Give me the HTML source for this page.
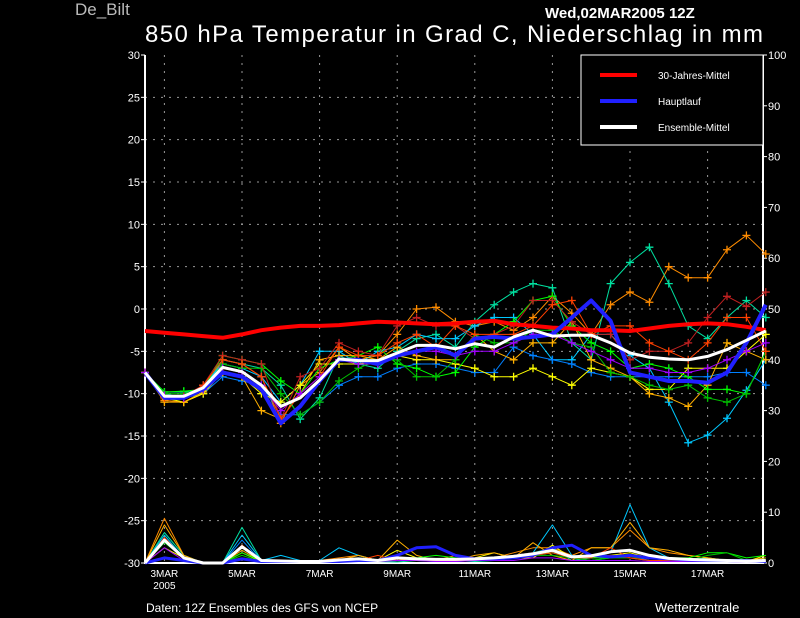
<!DOCTYPE html>
<html><head><meta charset="utf-8"><style>
html,body{margin:0;padding:0;background:#000;width:800px;height:618px;overflow:hidden}
svg{display:block;font-family:"Liberation Sans",sans-serif}
</style></head><body>
<svg id="c" width="800" height="618" xmlns="http://www.w3.org/2000/svg">
<rect x="0" y="0" width="800" height="618" fill="#000"/>
<text x="75" y="15" fill="#bbb" font-size="17">De_Bilt</text>
<text x="545" y="18" fill="#fff" font-size="15" font-weight="bold">Wed,02MAR2005 12Z</text>
<text x="145" y="42" fill="#fff" font-size="24" textLength="618">850 hPa Temperatur in Grad C, Niederschlag in mm</text>
<text x="146" y="612" fill="#fff" font-size="12">Daten: 12Z Ensembles des GFS von NCEP</text>
<text x="655" y="612" fill="#fff" font-size="13">Wetterzentrale</text>
<g id="grid"></g><g id="axes"></g><g id="series"></g><g id="legend"></g>
</svg>
<script>
const dateLabels = ["3MAR","5MAR","7MAR","9MAR","11MAR","13MAR","15MAR","17MAR"];
const dateIdx = [1,5,9,13,17,21,25,29];
const tempTicks = [30,25,20,15,10,5,0,-5,-10,-15,-20,-25,-30];
const precTicks = [0,10,20,30,40,50,60,70,80,90,100];
const climate = [-2.6,-2.8,-3.0,-3.2,-3.4,-3.0,-2.5,-2.2,-2.0,-2.0,-1.9,-1.7,-1.5,-1.6,-1.7,-1.8,-1.7,-1.5,-1.4,-1.8,-2.0,-2.2,-2.3,-2.5,-2.5,-2.6,-2.3,-2.0,-1.8,-1.7,-1.8,-2.1,-2.5];
const mainRun = [-7.5,-10.5,-10.5,-9.5,-7.5,-8,-9.5,-13.5,-11.5,-8.5,-6,-6,-6.5,-5.5,-5,-4.5,-5.5,-3.5,-3.3,-3.5,-3.3,-3,-1,1,-1.4,-7.5,-8,-8.5,-8.5,-8.7,-7.5,-4,0.5];
const ensMean = [-7.5,-10.3,-10.3,-9.3,-6.9,-7.4,-9,-11.5,-10.5,-8.4,-5.9,-6.1,-6.1,-5.2,-4.3,-4.3,-4.7,-4.1,-4.5,-3.3,-2.5,-3.2,-3.1,-3.1,-4,-5.2,-5.7,-5.9,-6,-5.6,-4.8,-3.7,-2.6];
const memberColors = ["#ff8c00","#00e0a0","#00c8ff","#0080ff","#ffff00","#ffb000","#00ff00","#00c000","#c02020","#ff4000","#a000ff"];
const m1 = [-7.5,-10.8,-11,-10,-6,-6.5,-8,-13.5,-9,-7.5,-4.5,-6,-5.5,-3,0,0.2,-1.5,-2,-1.5,-2.5,-1,1.5,-0.5,-3,0.5,2,0.8,5,3.7,3.7,7,8.7,6.5];
const m2 = [-7.5,-9.8,-9.8,-9.5,-6,-6.5,-7,-9,-13,-10.5,-5.5,-6.5,-7,-5,-3.5,-3,-4.5,-1.5,0.5,2,3,2.5,-4,-6,3,5.5,7.3,3,-2,-3.5,-1,1,-1];
const m3 = [-7.5,-10,-10.5,-9,-6.5,-7,-8,-11,-9,-5,-5,-6.5,-5,-4.5,-3,-3.5,-3.5,-2,-1,-1,-3,-6,-6,-3,-3,-5.5,-7,-11,-15.8,-14.9,-12.9,-9.6,-6];
const m4 = [-7.5,-10.5,-10.5,-10,-8,-8.5,-9,-12.5,-12.5,-11,-9,-8,-8,-7,-6.5,-6.5,-7,-7.5,-7.5,-4.5,-5.5,-6,-6.5,-7.5,-8,-8,-8,-8,-8,-8,-7.5,-7.5,-9];
const m5 = [-7.5,-10.5,-11,-10,-7.5,-8,-10,-11,-9,-6.5,-6.5,-6.5,-6,-5.5,-6,-6,-6.5,-7,-8,-8,-7,-8,-9,-7,-7.5,-8,-9.5,-9.5,-7,-7,-7,-5,-3];
const m6 = [-7.5,-11,-11,-9.8,-7.5,-8,-12,-13,-10,-6,-5.5,-5.5,-6,-4.5,-5.5,-6,-6,-3,-5,-6,-4,-4,-1.5,-6,-7,-8,-10,-10.5,-11.5,-9,-4,-5,-6];
const m7 = [-7.5,-9.8,-9.7,-9.5,-5.5,-6,-6.5,-8.5,-10,-7,-6,-5.5,-4.5,-6.5,-7,-8,-7.5,-4.5,-3,-1.5,1,1.5,-2,-4,-5,-7,-6.5,-7,-8,-9.5,-9.5,-10,-5];
const m8 = [-7.5,-10,-10,-9.5,-6.5,-7,-7,-10,-12.5,-11,-8.5,-7,-6,-6,-8,-8,-6,-3,-4,-4,-2.5,-2.5,-4,-4.5,-7.5,-8,-9,-9.5,-9,-10.5,-11,-10,-5];
const m9 = [-7.5,-10.2,-10.3,-9,-5.5,-6,-6.5,-13,-8,-7,-4,-5,-5.5,-2,-1,-2,-2,-3.5,-3,-2,1,1,-1.5,-3,-3,-6,-5,-5,-4,-1,1.5,0.3,2];
const m10 = [-7.5,-10.5,-10.5,-9,-6,-6.5,-8,-13,-10,-8,-4.5,-5.5,-5.5,-4,-3,-4.5,-2,-3,-3,-3,-2,0.5,1,-3,-2,-2,-4,-5,-6,-4,-1,-1,-5];
const m11 = [-7.5,-10.2,-10.5,-9.5,-7,-7.5,-9,-12,-10,-8,-6,-6.5,-6.5,-5.5,-5,-5,-5.5,-5,-5,-4,-3,-3,-4,-5,-6,-7,-7,-7.5,-7.5,-7,-6,-5,-4];
const members = [m1,m2,m3,m4,m5,m6,m7,m8,m9,m10,m11];
const p1 = [0,8.8,1.5,0,0,3,0.5,0.5,0.3,0.5,1,1.5,0.5,0.5,1,0.5,1.5,0.5,1,2,3,3,1.5,3,3,6.5,3,2,1.5,1,0.5,0.3,0.5];
const p2 = [0,6,1.5,0,0,7,0.5,0.5,0.3,0.2,0.3,0.5,0.3,0.2,0.5,0.5,0.5,0.3,0.5,1,2,3,0.5,1,1.5,1,0.5,0.5,0.5,1,0.5,0.3,1];
const p3 = [0,5.5,1,0,0,5.5,0.5,1.5,0.5,0.5,3,1.5,0.5,1,0.5,0.5,0.5,0.5,1,1.5,2,7.5,1.5,1,2,11.5,3,1,0.5,0.5,0.3,0.3,0.5];
const p4 = [0,5,1,0,0,4.5,0.3,0.3,0.3,0.3,0.5,0.5,0.3,0.5,0.5,0.3,0.3,0.5,0.5,1,1.5,2,1,0.5,1,1.5,0.5,0.3,0.3,0.3,0.3,0.2,0.3];
const p5 = [0,3,1,0,0,2,0.3,0.3,0.3,0.3,0.5,0.5,0.5,2.5,1,0.5,0.5,1,2,1,1,3.5,1,1,1.5,2,1,0.5,0.5,0.3,0.3,0.3,1.5];
const p6 = [0,7.5,1.5,0,0,2.5,0.3,0.3,0.3,0.3,0.5,1.5,0.5,4.5,1.5,0.5,0.5,1.5,2,1,4,1.5,0.5,3,3,8,3,2.5,1.5,1,0.5,0.5,1];
const p7 = [0,4.5,1,0,0,2,0.5,0.5,0.3,0.3,0.5,1,0.5,1,1,1.5,1,0.5,1,1,1.5,2,1,1,1,1.5,1,1,1,2,2,1,1.5];
const p8 = [0,4,1,0,0,1.5,0.3,0.3,0.3,0.3,0.5,0.5,0.3,0.5,0.5,0.5,0.5,0.5,0.5,1,1.5,1.5,1,0.5,1,1,1,1,0.5,1.5,2,0.5,0.5];
const p9 = [0,5,1,0,0,3.5,0.5,0.3,0.3,0.3,0.3,0.5,0.3,1,1,0.5,0.5,1,1,1.5,2,2.5,1,1.5,1.5,1,0.5,0.5,0.3,0.3,0.3,0.3,0.5];
const p10 = [0,5,1,0,0,3.5,0.3,0.3,0.3,0.3,0.5,0.5,1.5,0.5,0.5,0.5,0.5,0.5,1,1,1.5,2,1,1,3,1,0.5,0.5,0.3,0.3,0.3,0.3,0.5];
const p11 = [0,3,0.5,0,0,1,0.3,0.3,0.3,0.3,0.3,0.5,0.3,0.5,0.5,0.3,0.3,0.5,0.5,0.5,1,1,0.5,0.5,0.5,0.5,0.3,0.3,0.3,0.3,0.3,0.2,0.3];
const precMembers = [p1,p2,p3,p4,p5,p6,p7,p8,p9,p10,p11];
const precMain = [0,1,0.5,0,0,0.8,0.3,0.3,0.3,0.3,0.3,0.5,0.5,1.5,3,3.2,1.5,0.8,0.8,1,1.5,3,3.5,1.5,1.2,1.5,1,0.8,0.6,0.5,0.5,0.5,0.3];
const precMean = [0,4.5,1,0,0,3.2,0.5,0.4,0.3,0.3,0.6,0.8,0.5,1,0.8,0.7,0.7,0.8,1,1.3,1.8,2.5,1.2,1.4,2.2,2.5,1.5,0.9,0.7,0.6,0.5,0.4,0.5];

const NS="http://www.w3.org/2000/svg";
const X0=145,X1=763,Y0=55,Y1=563,DX=19.4;
const xs=i=>X0+DX*i;
const yT=t=>309-(t)*508/60;
const yP=p=>Y1-p*508/100;
function mk(tag,attrs,parent){const e=document.createElementNS(NS,tag);for(const k in attrs)e.setAttribute(k,attrs[k]);parent.appendChild(e);return e;}
const grid=document.getElementById('grid'),axes=document.getElementById('axes'),ser=document.getElementById('series'),leg=document.getElementById('legend');
tempTicks.forEach(t=>{
  if(t>-30&&t<30){const g=mk('line',{x1:X0,x2:X1,y1:yT(t),y2:yT(t),stroke:'#999','stroke-dasharray':'2,6','stroke-width':1},grid);
  
  }
  const tk=mk('line',{x1:X0-4,x2:X0,y1:yT(t),y2:yT(t),stroke:'#fff'},axes);
  
  
  const l=mk('text',{x:X0-5,y:yT(t)+4,fill:'#fff','font-size':11,'text-anchor':'end'},axes);l.textContent=t;
  
  
});
precTicks.forEach(p=>{
  const tk=mk('line',{x1:X1,x2:X1+4,y1:yP(p),y2:yP(p),stroke:'#fff'},axes);
  
  
  const l=mk('text',{x:X1+5,y:yP(p)+4,fill:'#fff','font-size':11},axes);l.textContent=p;
  
  
});
dateLabels.forEach((d,k)=>{
  const x=xs(dateIdx[k]);
  const g=mk('line',{x1:x,x2:x,y1:Y0,y2:Y1,stroke:'#999','stroke-dasharray':'2,6'},grid);
  
  
  const l=mk('text',{x:x,y:577,fill:'#fff','font-size':10,'text-anchor':'middle'},axes);l.textContent=d;
  
  
});
const yr=mk('text',{x:xs(1),y:589,fill:'#fff','font-size':10,'text-anchor':'middle'},axes);yr.textContent='2005';


const fr=mk('path',{d:`M${X0} ${Y0}V${Y1}H${X1}V${Y0}`,stroke:'#fff','stroke-width':2,fill:'none'},axes);


function line(arr,yf,color,w){return mk('polyline',{points:arr.map((v,i)=>xs(i).toFixed(1)+','+yf(v).toFixed(1)).join(' '),fill:'none',stroke:color,'stroke-width':w,'stroke-linejoin':'round'},ser);}
precMembers.forEach((arr,k)=>{const p=line(arr,yP,memberColors[k],1);
  
  });
members.forEach((arr,k)=>{const p=line(arr,yT,memberColors[k],1);
  
  
  arr.forEach((v,i)=>{const x=xs(i),y=yT(v);
    const m=mk('path',{d:`M${x-4} ${y}H${x+4}M${x} ${y-4}V${y+4}`,stroke:memberColors[k],'stroke-width':1.3},ser);
    
    });
});
let e=line(precMain,yP,'#2020ff',3);


e=line(precMean,yP,'#fff',3);


e=line(climate,yT,'#ff0000',4);


e=line(mainRun,yT,'#2020ff',4);


e=line(ensMean,yT,'#fff',3);


const lb=mk('rect',{x:581,y:55,width:182,height:90,fill:'#000',stroke:'#fff','stroke-width':1},leg);


const legNames=['30-Jahres-Mittel','Hauptlauf','Ensemble-Mittel'],legCols=['#ff0000','#2020ff','#fff'];
legNames.forEach((n,k)=>{const y=75+26*k;
  const s=mk('line',{x1:600,x2:637,y1:y,y2:y,stroke:legCols[k],'stroke-width':4},leg);
  
  
  const t=mk('text',{x:658,y:y+4,fill:'#fff','font-size':10},leg);t.textContent=n;
  
  });
</script>
</body></html>
